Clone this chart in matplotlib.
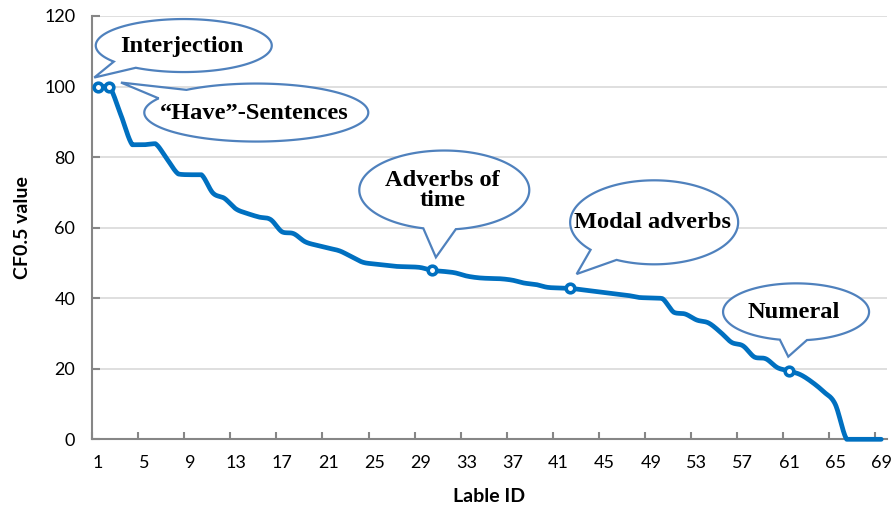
import numpy as np
import matplotlib.pyplot as plt
from matplotlib.patches import Polygon

# data
label_ids = np.arange(1, 70)
cf_values = [100, 100, 92, 83.5, 83.5, 83.8, 79.5, 75.2, 75, 75,
             69.8, 68.3, 65.3, 64, 63, 62.3, 58.8, 58.3, 56, 55,
             54.2, 53.4, 51.8, 50.2, 49.7, 49.3, 49, 48.9, 48.7, 47.9,
             47.6, 47.2, 46.3, 45.8, 45.6, 45.5, 45.1, 44.3, 43.9, 43.1,
             42.9, 42.8, 42.4, 42, 41.6, 41.2, 40.8, 40.2, 40.1, 39.9,
             36, 35.5, 33.8, 33, 30.5, 27.5, 26.5, 23.3, 22.8, 20.3,
             19.4, 18.3, 16.2, 13.5, 10, 0, 0, 0, 0]
note_ids = [1, 2, 30, 42, 61]
note_texts = ['Interjection', '\u201cHave\u201d-Sentences', 'Adverbs of\ntime',
              'Modal adverbs', 'Numeral']

# bubble layout, pixel offsets from the marked point (x right, y down):
# centre, width, height, tip, two base points of the tail
bubbles = [
    ((86, -41), 176, 53, (-3.5, -9), (19, -25.6), (35.5, -17.6)),
    ((147, 26), 224, 58, (11.7, -4), (48.7, 11.7), (77.4, 3.4)),
    ((12.4, -80.3), 170, 79, (4, -13), (-8.6, -42), (24, -41)),
    ((84, -66), 168, 84, (6.5, -14.3), (21.5, -39), (48, -30)),
    ((7, -59), 146, 57, (-0.8, -14.2), (-9, -31.6), (17.6, -31.6)),
]

W, H = 896, 520
LINE = '#0070C0'
EDGE = '#4F81BD'
AXC = '#868686'


def smooth(x, y, n=24):
    # excel-like smoothed line (bezier through the points), no overshoot
    x = np.asarray(x, float)
    y = np.asarray(y, float)
    px = np.concatenate([[x[0]], x, [x[-1]]])
    py = np.concatenate([[y[0]], y, [y[-1]]])
    t = np.linspace(0, 1, n, endpoint=False)
    xs, ys = [], []
    for i in range(1, len(px) - 2):
        p0x, p0y = px[i], py[i]
        p3x, p3y = px[i + 1], py[i + 1]
        lo, hi = min(p0y, p3y), max(p0y, p3y)
        c1x = p0x + (px[i + 1] - px[i - 1]) / 6
        c1y = np.clip(p0y + (py[i + 1] - py[i - 1]) / 6, lo, hi)
        c2x = p3x - (px[i + 2] - px[i]) / 6
        c2y = np.clip(p3y - (py[i + 2] - py[i]) / 6, lo, hi)
        b0 = (1 - t) ** 3
        b1 = 3 * (1 - t) ** 2 * t
        b2 = 3 * (1 - t) * t ** 2
        b3 = t ** 3
        xs.append(b0 * p0x + b1 * c1x + b2 * c2x + b3 * p3x)
        ys.append(b0 * p0y + b1 * c1y + b2 * c2y + b3 * p3y)
    xs.append([x[-1]])
    ys.append([y[-1]])
    return np.concatenate(xs), np.concatenate(ys)


def bubble_outline(cx, cy, w, h, tip, b1, b2):
    a, b = w / 2, h / 2
    t1 = np.arctan2((b1[1] - cy) / b, (b1[0] - cx) / a)
    t2 = np.arctan2((b2[1] - cy) / b, (b2[0] - cx) / a)
    d = (t2 - t1) % (2 * np.pi)
    if d < np.pi:
        ts = np.linspace(t2, t2 + 2 * np.pi - d, 200)
    else:
        ts = np.linspace(t1, t1 + d, 200)
    pts = np.column_stack([cx + a * np.cos(ts), cy + b * np.sin(ts)])
    return np.vstack([pts, [tip]])


plt.rcParams['font.family'] = ['Lato', 'DejaVu Sans']

fig = plt.figure(figsize=(W / 100, H / 100), dpi=100)
ax = fig.add_axes([92 / W, 1 - 439.3 / H, 795 / W, 423.3 / H])

sx, sy = smooth(label_ids, cf_values)
ax.plot(sx, sy, color=LINE, lw=3.4, solid_capstyle='round', zorder=3, clip_on=False)
mk_x = [label_ids[i - 1] for i in note_ids]
mk_y = [cf_values[i - 1] for i in note_ids]
ax.plot(mk_x, mk_y, 'o', ms=6.2, mew=2.6, mfc='white', mec=LINE, zorder=4, clip_on=False)

ax.set_xlim(0.5, 69.5)
ax.set_ylim(0, 120)
ax.set_yticks(range(0, 121, 20))
ax.set_xticks(label_ids[::4])
ax.set_xticks(np.arange(0.5, 69, 4), minor=True)
ax.tick_params(axis='x', which='major', length=0, pad=11, labelsize=13)
ax.tick_params(axis='x', which='minor', direction='in', length=5, width=1.5, color=AXC)
ax.tick_params(axis='y', direction='in', length=5.5, width=1.5, color=AXC, pad=12, labelsize=13)
ax.grid(axis='y', color='#D9D9D9', lw=1.2)
ax.set_axisbelow(True)
for s in ['top', 'right']:
    ax.spines[s].set_visible(False)
for s in ['left', 'bottom']:
    ax.spines[s].set_color(AXC)
    ax.spines[s].set_linewidth(1.5)
    ax.spines[s].set_zorder(2.5)

ax.set_xlabel('Lable ID', fontsize=14, fontweight='bold', va='center')
ax.xaxis.set_label_coords(0.5, -(497 - 439.3) / 423.3)
ax.set_ylabel('CF0.5 value', fontsize=14, fontweight='bold', va='center')
ax.yaxis.set_label_coords(-(92 - 22.7) / 795, 0.5)

# speech bubbles
for nid, txt, (c, w, h, tip, b1, b2) in zip(note_ids, note_texts, bubbles):
    dx, dy = ax.transData.transform((nid, cf_values[nid - 1]))
    ax_x, ax_y = dx, H - dy
    cx, cy = ax_x + c[0], ax_y + c[1]
    pts = bubble_outline(cx, cy, w, h,
                         (ax_x + tip[0], ax_y + tip[1]),
                         (ax_x + b1[0], ax_y + b1[1]),
                         (ax_x + b2[0], ax_y + b2[1]))
    fpts = np.column_stack([pts[:, 0] / W, 1 - pts[:, 1] / H])
    fig.add_artist(Polygon(fpts, closed=True, transform=fig.transFigure,
                           facecolor='white', edgecolor=EDGE, lw=1.6, zorder=5))
    fig.text((cx - 2) / W, 1 - (cy + 0.5) / H, txt, ha='center', va='center',
             family='Liberation Serif', fontweight='bold', fontsize=17.6,
             linespacing=0.95, zorder=6)

fig.savefig('out.png', dpi=100)
